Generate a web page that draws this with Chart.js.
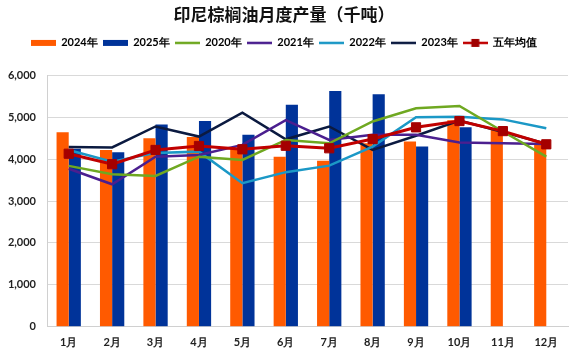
<!DOCTYPE html>
<html>
<head>
<meta charset="utf-8">
<script src="https://cdn.jsdelivr.net/npm/chart.js@4/dist/chart.umd.min.js"></script>
<style>
  html, body { margin: 0; padding: 0; background: #fff; }
  #wrap { width: 576px; height: 354px; }
</style>
</head>
<body>
<div id="wrap"><canvas id="chart"></canvas></div>
<script>
const months = ["1月", "2月", "3月", "4月", "5月", "6月", "7月", "8月", "9月", "10月", "11月", "12月"];

const y2024 = [4640, 4220, 4500, 4530, 4260, 4060, 3960, 4380, 4420, 4930, 4700, 4360];
const y2025 = [4250, 4165, 4830, 4910, 4580, 5300, 5630, 5550, 4300, 4760, null, null];
const y2020 = [3840, 3640, 3600, 4060, 3980, 4460, 4380, 4900, 5215, 5270, 4660, 4060];
const y2021 = [3770, 3400, 4060, 4100, 4340, 4930, 4460, 4580, 4580, 4400, 4380, 4360];
const y2022 = [4220, 3940, 4150, 4180, 3425, 3690, 3845, 4300, 5000, 5015, 4950, 4740];
const y2023 = [4290, 4280, 4780, 4540, 5110, 4475, 4780, 4220, 4560, 4920, 4650, 4370];
const avg5 = [4130, 3880, 4220, 4315, 4235, 4320, 4260, 4480, 4760, 4910, 4670, 4355];

const yTicks = [0, 1000, 2000, 3000, 4000, 5000, 6000];

// little legend icons: bar box, plain line, line with square marker
function makeIcon(kind, color) {
  const c = document.createElement("canvas");
  c.width = 25;
  c.height = 10;
  const ctx = c.getContext("2d");
  if (kind === "bar") {
    ctx.fillStyle = color;
    ctx.fillRect(0, 2, 25, 6);
  } else {
    ctx.strokeStyle = color;
    ctx.lineWidth = 2.5;
    ctx.beginPath();
    ctx.moveTo(0, 5);
    ctx.lineTo(25, 5);
    ctx.stroke();
    if (kind === "marker") {
      ctx.fillStyle = "#a00000";
      ctx.fillRect(8.5, 1, 8, 8);
    }
  }
  return c;
}

const lineDs = (label, data, color) => ({
  type: "line",
  label: label,
  data: data,
  borderColor: color,
  backgroundColor: color,
  borderWidth: 2.5,
  pointRadius: 0,
  tension: 0,
  order: 1,
  icon: makeIcon("line", color)
});

const ctx = document.getElementById("chart").getContext("2d");
new Chart(ctx, {
  type: "bar",
  data: {
    labels: months,
    datasets: [
      {
        label: "2024年",
        data: y2024,
        backgroundColor: "#ff5a00",
        barPercentage: 1,
        categoryPercentage: 0.56,
        order: 10,
        icon: makeIcon("bar", "#ff5a00")
      },
      {
        label: "2025年",
        data: y2025,
        backgroundColor: "#003399",
        barPercentage: 1,
        categoryPercentage: 0.56,
        order: 10,
        icon: makeIcon("bar", "#003399")
      },
      lineDs("2020年", y2020, "#6fa821"),
      lineDs("2021年", y2021, "#4b1f8f"),
      lineDs("2022年", y2022, "#1b98c6"),
      lineDs("2023年", y2023, "#0b1a40"),
      {
        type: "line",
        label: "五年均值",
        data: avg5,
        borderColor: "#c00000",
        backgroundColor: "#a50000",
        borderWidth: 3,
        pointStyle: "rect",
        pointRadius: 6.5,
        pointBorderColor: "#a50000",
        pointBorderWidth: 1,
        tension: 0,
        order: 0,
        icon: makeIcon("marker", "#c00000")
      }
    ]
  },
  options: {
    responsive: true,
    maintainAspectRatio: false,
    animation: false,
    layout: { padding: { left: 0, right: 8, top: 0, bottom: 0 } },
    plugins: {
      title: {
        display: true,
        text: "印尼棕榈油月度产量（千吨）",
        color: "#111",
        font: { family: "'Noto Sans CJK SC'", size: 17, weight: "bold" },
        padding: { top: 4, bottom: 8 }
      },
      legend: {
        position: "top",
        labels: {
          usePointStyle: true,
          pointStyleWidth: 25,
          boxHeight: 10,
          padding: 5,
          color: "#222",
          font: { family: "Lato", size: 11, weight: "bold" },
          generateLabels: (chart) =>
            chart.data.datasets.map((ds, i) => ({
              text: ds.label,
              pointStyle: ds.icon,
              fillStyle: ds.backgroundColor,
              strokeStyle: ds.borderColor || ds.backgroundColor,
              lineWidth: 0,
              hidden: false,
              datasetIndex: i
            }))
        }
      },
      tooltip: { enabled: false }
    },
    scales: {
      x: {
        grid: { display: false, tickLength: 0 },
        border: { display: true, color: "#d0d0d0" },
        ticks: {
          color: "#222",
          padding: 9,
          font: { family: "Lato", size: 11, weight: "bold" }
        },
        afterFit: (scale) => { scale.height = 27.3; }
      },
      // empty top axis, only keeps the gap under the legend
      xTop: {
        type: "category",
        position: "top",
        grid: { display: false, drawTicks: false },
        border: { display: false },
        ticks: { display: false },
        afterFit: (scale) => { scale.height = 17; }
      },
      y: {
        min: 0,
        max: 6000,
        afterBuildTicks: (scale) => { scale.ticks = yTicks.map((v) => ({ value: v })); },
        grid: { color: "#d9d9d9", lineWidth: 1, tickLength: 0 },
        border: { display: true, color: "#d0d0d0" },
        ticks: {
          color: "#222",
          padding: 11,
          font: { family: "Lato", size: 11, weight: "bold" },
          callback: (v) => v.toLocaleString("en-US")
        },
        afterFit: (scale) => { scale.width = 47; }
      }
    }
  }
});
</script>
</body>
</html>
